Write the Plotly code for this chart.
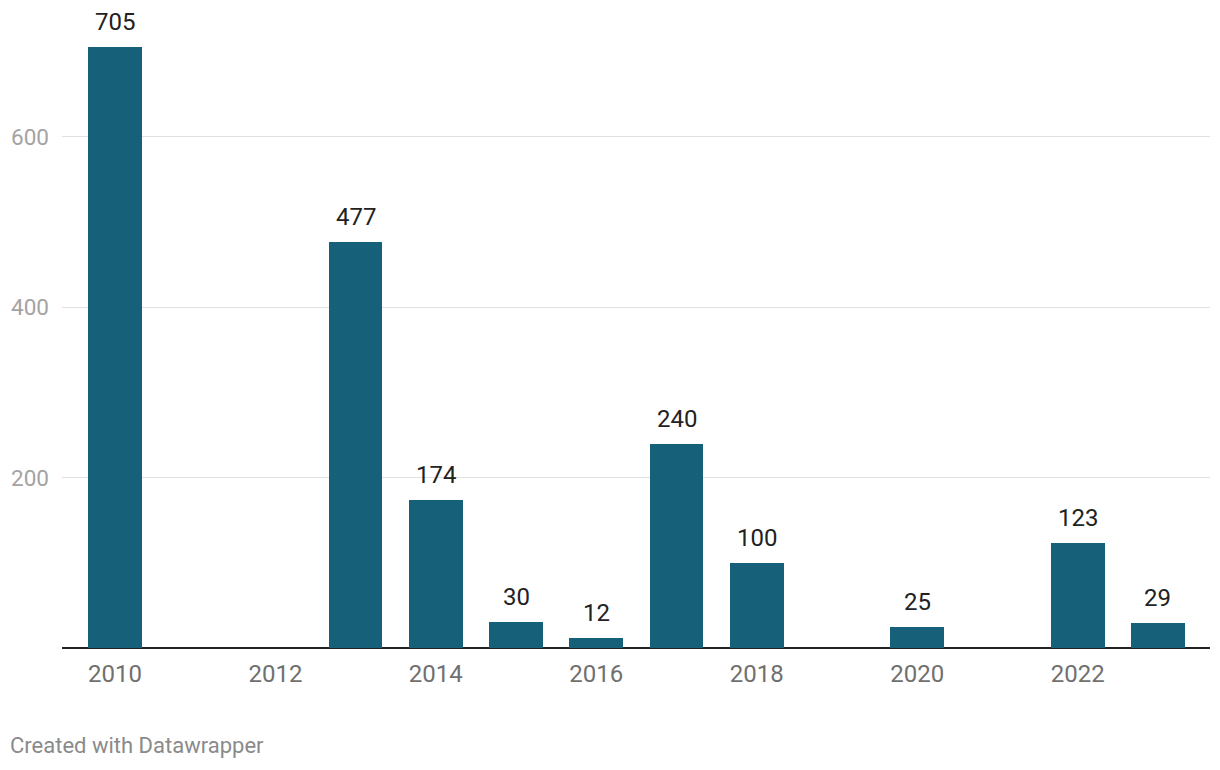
import plotly.graph_objects as go

# -- data -- #
years = [2010, 2013, 2014, 2015, 2016, 2017, 2018, 2020, 2022, 2023]
counts = [705, 477, 174, 30, 12, 240, 100, 25, 123, 29]
x_ticks = [2010, 2012, 2014, 2016, 2018, 2020, 2022]
y_ticks = [200, 400, 600]

bar_color = "#17607a"
font_family = "Roboto, 'Noto Sans', sans-serif"

fig = go.Figure()
fig.add_trace(go.Bar(x=years, y=counts, width=0.67, marker=dict(color=bar_color, line=dict(width=0)),
                     hoverinfo="x+y"))

# value labels above bars
for yr, val in zip(years, counts):
    fig.add_annotation(x=yr, y=val, text=str(val), showarrow=False, yanchor="bottom", yshift=9,
                       font=dict(family=font_family, size=24, color="#222222"))

# footer
fig.add_annotation(xref="paper", yref="paper", x=-0.047, y=-0.1536, xanchor="left", yanchor="middle",
                   text="Created with Datawrapper", showarrow=False,
                   font=dict(family=font_family, size=22, color="#8a8a8a"))

# page body adds an 8px offset, so the figure is a bit smaller than the window
fig.update_layout(
    width=1212, height=762,
    margin=dict(l=54, r=10, t=2, b=122),
    paper_bgcolor="white", plot_bgcolor="white",
    showlegend=False, bargap=0,
    font=dict(family=font_family),
    xaxis=dict(range=[2009.34, 2023.65], tickvals=x_ticks, ticktext=[str(t) for t in x_ticks],
               showgrid=False, zeroline=False, showline=False, ticks="", automargin=False,
               tickfont=dict(size=24, color="#707070"), ticklabelstandoff=9),
    yaxis=dict(range=[0, 749], tickvals=y_ticks, showgrid=True, gridcolor="#e0e0e0", gridwidth=1,
               zeroline=True, zerolinecolor="#222222", zerolinewidth=2, showline=False, ticks="",
               automargin=False, tickfont=dict(size=22.5, color="#a3a3a3"), ticklabelstandoff=12),
)

fig.write_html("out.html")
